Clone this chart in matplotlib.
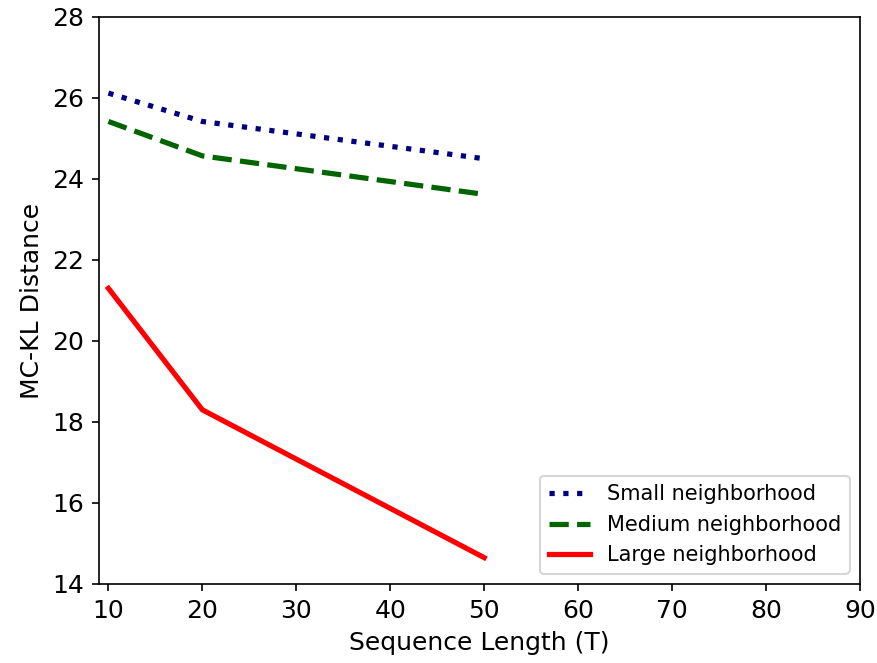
import matplotlib
matplotlib.use("Agg")
import matplotlib.pyplot as plt

seq_len = [10, 20, 50]
small_nbhd = [26.12, 25.42, 24.50]
medium_nbhd = [25.42, 24.57, 23.62]
large_nbhd = [21.30, 18.30, 14.65]

fig = plt.figure(figsize=(877 / 150, 663 / 150), dpi=150)
ax = fig.add_axes([0.1129, 0.1192, 0.9806 - 0.1129, 0.9744 - 0.1192])

ax.plot(seq_len, small_nbhd, linestyle=":", color="navy", linewidth=2.5,
        label="Small neighborhood")
ax.plot(seq_len, medium_nbhd, linestyle="--", color="darkgreen", linewidth=2.5,
        label="Medium neighborhood")
ax.plot(seq_len, large_nbhd, linestyle="-", color="red", linewidth=2.5,
        label="Large neighborhood")

ax.set_xlim(9, 90)
ax.set_ylim(14, 28)
ax.set_xticks(range(10, 91, 10))
ax.set_yticks(range(14, 29, 2))
ax.tick_params(labelsize=12)
ax.set_xlabel("Sequence Length (T)", fontsize=12)
ax.set_ylabel("MC-KL Distance", fontsize=12)
ax.legend(loc="lower right", fontsize=10)

fig.savefig("out.png", dpi=150)
